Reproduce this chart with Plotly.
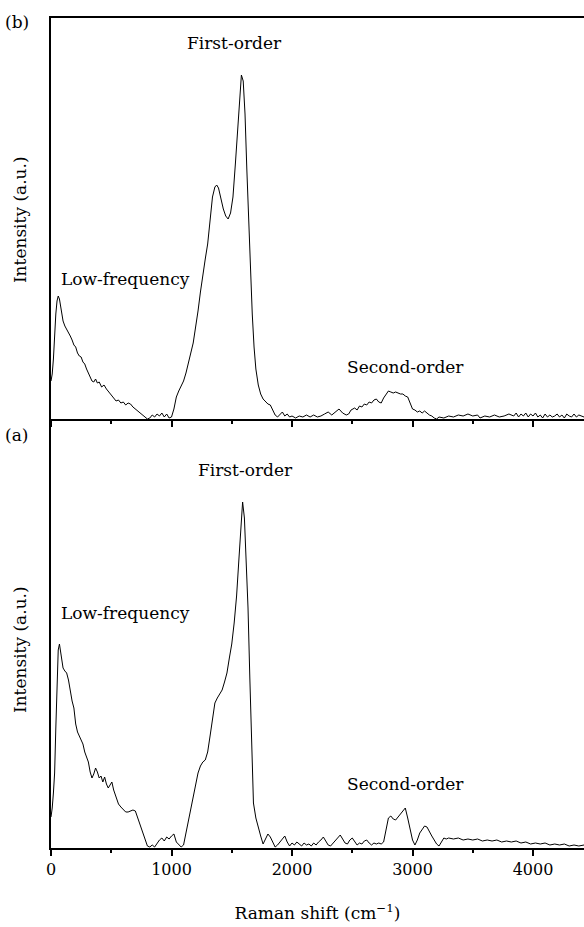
import plotly.graph_objects as go

# ---------------- data (Raman shift in cm^-1, intensity in a.u.) ----------------
# (b) upper spectrum
shift_b = [0, 10, 20, 30, 40, 50, 60, 70, 80, 90, 100, 115, 130, 145, 160, 175, 190, 205, 220, 235,
           250, 265, 280, 295, 310, 325, 340, 355, 370, 385, 400, 420, 440, 460, 480, 500, 520, 540,
           560, 580, 600, 620, 640, 660, 680, 700, 720, 740, 760, 780, 800, 820, 840, 860, 880, 900,
           920, 940, 960, 980, 1000, 1020, 1040, 1060, 1080, 1100, 1120, 1140, 1160, 1180, 1200, 1220,
           1240, 1260, 1280, 1300, 1320, 1340, 1360, 1375, 1390, 1410, 1430, 1450, 1470, 1490, 1510,
           1530, 1550, 1565, 1580, 1595, 1610, 1625, 1640, 1655, 1670, 1685, 1700, 1720, 1740, 1760,
           1780, 1800, 1820, 1840, 1860, 1880, 1900, 1920, 1940, 1960, 1980, 2000, 2030, 2060, 2090,
           2120, 2150, 2180, 2210, 2240, 2270, 2300, 2330, 2360, 2390, 2420, 2450, 2470, 2490, 2520,
           2540, 2560, 2580, 2600, 2620, 2640, 2660, 2680, 2700, 2720, 2740, 2760, 2780, 2800, 2820,
           2840, 2860, 2880, 2900, 2920, 2940, 2960, 2980, 3000, 3020, 3040, 3060, 3080, 3100, 3120,
           3140, 3160, 3180, 3200, 3220, 3260, 3300, 3340, 3380, 3420, 3460, 3500, 3540, 3560, 3600,
           3640, 3680, 3720, 3760, 3800, 3840, 3860, 3880, 3900, 3920, 3940, 3960, 3980, 4000, 4020,
           4040, 4060, 4080, 4100, 4120, 4140, 4160, 4180, 4200, 4220, 4240, 4260, 4280, 4300, 4320,
           4340, 4360, 4380, 4400, 4423]
intensity_b = [38, 45, 60, 85, 105, 118, 123, 120, 112, 104, 98, 93, 90, 86, 83, 79, 74, 72, 66, 63,
               62, 57, 55, 50, 46, 43, 38, 37, 40, 36, 37, 32, 34, 30, 27, 25, 22, 18,
               19, 16, 17, 14, 16, 15, 12, 10, 8, 6, 4, 2, 0, 1, 4, 2, 5, 3,
               6, 2, 5, 1, 2, 10, 22, 28, 33, 38, 46, 55, 66, 76, 90, 108,
               127, 145, 160, 175, 200, 222, 232, 234, 231, 220, 210, 203, 200, 206, 222,
               255, 295, 325, 344, 338, 305, 250, 200, 150, 105, 72, 50, 34, 25, 20,
               17, 15, 14, 9, 4, 2, 5, 7, 3, 5, 2, 3, 1, 3, 2,
               4, 2, 4, 2, 3, 5, 7, 4, 7, 10, 6, 4, 5, 9, 11,
               9, 13, 12, 15, 14, 17, 16, 19, 20, 17, 16, 21, 25, 28, 27,
               26, 27, 26, 25, 25, 23, 22, 15, 10, 9, 7, 8, 6, 8, 6,
               4, 3, 1, 0, 2, 1, 3, 2, 4, 3, 5, 3, 4, 1, 3,
               2, 4, 2, 3, 5, 3, 6, 2, 5, 3, 6, 2, 5, 3, 6,
               2, 4, 1, 5, 2, 4, 2, 3, 5, 2, 4, 1, 5, 3, 2,
               5, 2, 4, 3, 2]

# (a) lower spectrum
shift_a = [0, 10, 20, 30, 40, 50, 60, 70, 80, 90, 100, 115, 130, 145, 160, 175, 190, 205, 220, 235,
           250, 265, 280, 295, 310, 325, 340, 355, 370, 385, 400, 415, 430, 445, 460, 475, 490, 505,
           520, 540, 560, 580, 600, 620, 640, 660, 680, 700, 720, 740, 760, 780, 800, 820, 840, 860,
           880, 900, 920, 940, 960, 980, 1000, 1020, 1040, 1060, 1080, 1100, 1120, 1140, 1160, 1180,
           1200, 1220, 1240, 1260, 1280, 1300, 1320, 1340, 1360, 1380, 1400, 1420, 1440, 1460, 1480,
           1500, 1520, 1540, 1560, 1575, 1590, 1605, 1620, 1635, 1650, 1665, 1680, 1700, 1720, 1740,
           1760, 1780, 1800, 1820, 1840, 1860, 1880, 1900, 1920, 1940, 1960, 1980, 2000, 2020, 2040,
           2060, 2080, 2100, 2120, 2140, 2160, 2180, 2200, 2220, 2240, 2260, 2280, 2300, 2320, 2340,
           2360, 2380, 2400, 2420, 2440, 2460, 2480, 2500, 2520, 2540, 2560, 2580, 2600, 2620, 2640,
           2660, 2680, 2700, 2720, 2740, 2760, 2780, 2800, 2820, 2840, 2860, 2880, 2900, 2920, 2940,
           2960, 2980, 3000, 3020, 3040, 3060, 3080, 3100, 3120, 3140, 3160, 3180, 3200, 3220, 3240,
           3260, 3280, 3300, 3340, 3380, 3420, 3460, 3500, 3540, 3580, 3620, 3660, 3700, 3740, 3780,
           3820, 3860, 3900, 3940, 3980, 4020, 4060, 4100, 4140, 4180, 4220, 4260, 4300, 4340, 4380,
           4423]
intensity_a = [31, 40, 55, 75, 120, 170, 198, 204, 196, 185, 180, 177, 175, 168, 155, 147, 140, 124, 116, 112,
               108, 104, 96, 91, 86, 76, 70, 74, 80, 76, 70, 72, 66, 71, 64, 60, 63, 66,
               58, 50, 44, 41, 38, 36, 36, 37, 38, 37, 30, 22, 16, 9, 2, 1, 3, 1,
               5, 8, 10, 7, 11, 9, 12, 14, 6, 3, 1, 3, 15, 28, 40, 50,
               63, 75, 82, 86, 88, 96, 112, 130, 145, 150, 154, 158, 166, 175, 190,
               204, 225, 252, 290, 325, 346, 330, 290, 240, 170, 95, 45, 30, 20, 12,
               4, 10, 14, 11, 5, 1, 3, 6, 9, 12, 6, 2, 5, 3, 6,
               4, 2, 5, 3, 4, 2, 5, 3, 6, 8, 11, 7, 3, 2, 5,
               7, 10, 13, 9, 5, 4, 8, 10, 6, 3, 5, 4, 7, 8, 5,
               3, 5, 4, 5, 4, 6, 18, 30, 32, 29, 28, 31, 33, 37, 40,
               30, 18, 8, 3, 8, 15, 19, 22, 21, 16, 12, 8, 4, 2, 6,
               10, 9, 10, 9, 10, 8, 9, 8, 9, 7, 8, 7, 8, 6, 7,
               6, 7, 5, 6, 4, 5, 4, 5, 3, 4, 3, 4, 2, 3, 2,
               3]

x_ticks = [0, 1000, 2000, 3000, 4000]
x_tick_labels = ["0", "1000", "2000", "3000", "4000"]

FONT = "DejaVu Serif"
split = 429 / 830

fig = go.Figure()
fig.add_trace(go.Scatter(x=shift_a, y=intensity_a, xaxis="x", yaxis="y", mode="lines",
                         line=dict(color="black", width=1), showlegend=False, hoverinfo="skip"))
fig.add_trace(go.Scatter(x=shift_b, y=intensity_b, xaxis="x2", yaxis="y2", mode="lines",
                         line=dict(color="black", width=1), showlegend=False, hoverinfo="skip"))

axis_common = dict(showgrid=False, zeroline=False, linecolor="black", linewidth=2,
                   showline=True)

fig.update_layout(
    width=584, height=927,
    margin=dict(l=51, r=0, t=18, b=79),
    paper_bgcolor="white", plot_bgcolor="white",
    font=dict(family=FONT, color="black", size=16),
    xaxis=dict(domain=[0, 1], anchor="y", range=[0, 4423], tickvals=x_ticks,
               ticktext=x_tick_labels, ticks="outside", ticklen=6, tickwidth=2,
               tickcolor="black", minor=dict(dtick=500, ticklen=3, tickwidth=1.5,
                                             ticks="outside", tickcolor="black"),
               tickfont=dict(size=16),
               title=dict(text="Raman shift (cm<sup>−1</sup>)", font=dict(size=17), standoff=29),
               **axis_common),
    yaxis=dict(domain=[0, split], anchor="x", range=[0, 429], showticklabels=False,
               ticks="", **axis_common),
    xaxis2=dict(domain=[0, 1], anchor="y2", range=[0, 4423], tickvals=x_ticks,
                showticklabels=False, ticks="outside", ticklen=6, tickwidth=2,
                tickcolor="black", minor=dict(dtick=500, ticklen=3, tickwidth=1.5,
                                              ticks="outside", tickcolor="black"),
                mirror=True, **axis_common),
    yaxis2=dict(domain=[split, 1], anchor="x2", range=[0, 401], showticklabels=False,
                ticks="", **axis_common),
)

ann = []
def label(text, x, y, xref, yref, xanchor="center", size=17, angle=0):
    ann.append(dict(text=text, x=x, y=y, xref=xref, yref=yref, xanchor=xanchor,
                    yanchor="middle", showarrow=False, textangle=angle,
                    font=dict(family=FONT, size=size, color="black")))

# panel b
label("First-order", 1519, 376, "x2", "y2")
label("Low-frequency", 66, 140, "x2", "y2", xanchor="left")
label("Second-order", 2938, 52, "x2", "y2")
# panel a
label("First-order", 1618, 378, "x", "y")
label("Low-frequency", 66, 235, "x", "y", xanchor="left")
label("Second-order", 2938, 64, "x", "y")
# panel letters and y titles
label("(b)", -0.0638, 0.995, "paper", "paper")
label("(a)", -0.0638, 0.4976, "paper", "paper")
label("Intensity (a.u.)", -0.058, 0.7566, "paper", "paper", angle=-90)
label("Intensity (a.u.)", -0.058, 0.2386, "paper", "paper", angle=-90)

fig.update_layout(annotations=ann)
fig.write_html("out.html")
